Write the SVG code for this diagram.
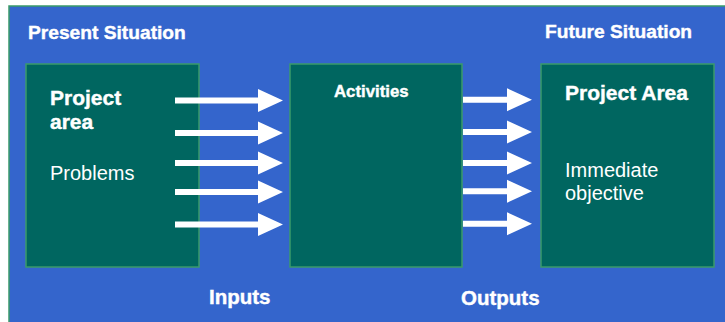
<svg xmlns="http://www.w3.org/2000/svg" xmlns:xlink="http://www.w3.org/1999/xlink" width="725" height="322" viewBox="0 0 725 322">
  <style>
    .panel { fill: #3465CC; stroke: #3A9A6A; stroke-width: 1.5; }
    .box { fill: #006660; stroke: #3A9A6A; stroke-width: 1.5; }
    .t { font-family: "Liberation Sans", Arial, sans-serif; fill: #FFFFFF; }
    .b { font-weight: bold; stroke: #FFFFFF; stroke-width: 0.4; }
    .arrow { fill: #FFFFFF; }
  </style>
  <defs>
    <!-- block arrow: shaft then triangular head, origin at shaft start / centre line -->
    <path id="arrowL" d="M0,-3 H83 V-11.5 L108,0 L83,11.5 V3 H0 Z"/>
    <path id="arrowR" d="M0,-3 H44 V-11.5 L69,0 L44,11.5 V3 H0 Z"/>
  </defs>

  <rect x="0" y="0" width="725" height="322" fill="#FFFFFF"/>
  <rect class="panel" x="9" y="6" width="730" height="330"/>

  <text class="t b" x="28" y="39" font-size="19.2">Present Situation</text>
  <text class="t b" x="545" y="38" font-size="19.2">Future Situation</text>

  <g id="present">
    <rect class="box" x="26" y="64" width="173" height="203"/>
    <text class="t b" x="50" y="105" font-size="21">Project</text>
    <text class="t b" x="50" y="129" font-size="21">area</text>
    <text class="t" x="50" y="180" font-size="20">Problems</text>
  </g>

  <g id="activities">
    <rect class="box" x="290" y="64" width="172" height="203"/>
    <text class="t b" x="334" y="97" font-size="16.8">Activities</text>
  </g>

  <g id="future">
    <rect class="box" x="541" y="64" width="173" height="203"/>
    <text class="t b" x="565" y="100" font-size="21">Project Area</text>
    <text class="t" x="565" y="177" font-size="20">Immediate</text>
    <text class="t" x="565" y="200" font-size="20">objective</text>
  </g>

  <g id="connectors" class="arrow">
    <use xlink:href="#arrowL" x="175" y="100.5"/>
    <use xlink:href="#arrowL" x="175" y="133"/>
    <use xlink:href="#arrowL" x="175" y="163"/>
    <use xlink:href="#arrowL" x="175" y="192"/>
    <use xlink:href="#arrowL" x="175" y="224.5"/>
    <use xlink:href="#arrowR" x="463" y="99.7"/>
    <use xlink:href="#arrowR" x="463" y="132"/>
    <use xlink:href="#arrowR" x="463" y="163"/>
    <use xlink:href="#arrowR" x="463" y="191.3"/>
    <use xlink:href="#arrowR" x="463" y="223.7"/>
  </g>

  <text class="t b" x="209" y="304" font-size="20.5">Inputs</text>
  <text class="t b" x="461" y="305" font-size="20.5">Outputs</text>
</svg>
